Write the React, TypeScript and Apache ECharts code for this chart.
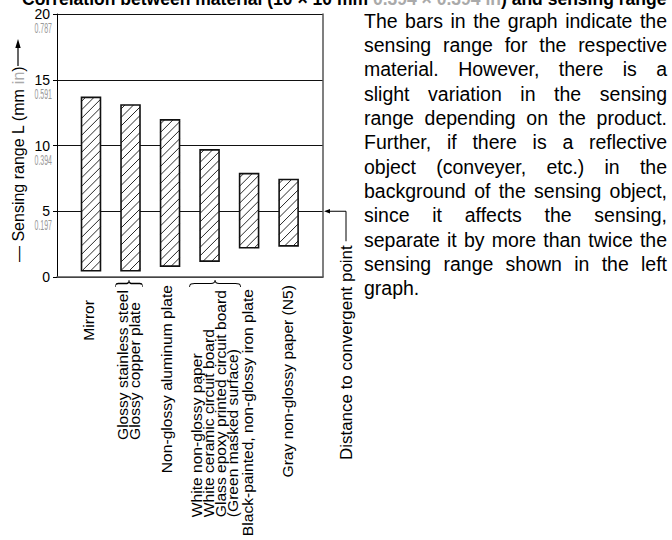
import React, { useEffect, useRef } from "react";
import * as echarts from "echarts";

// ---------- data ----------
const materialLabels: string[][] = [
  ["Mirror"],
  ["Glossy stainless steel", "Glossy copper plate"],
  ["Non-glossy aluminum plate"],
  [
    "White non-glossy paper",
    "White ceramic circuit board",
    "Glass epoxy printed circuit board",
    "(Green masked surface)",
  ],
  ["Black-painted, non-glossy iron plate"],
  ["Gray non-glossy paper (N5)"],
];
const bracedMaterials = [1, 3];
const rangeMin = [0.48, 0.48, 0.83, 1.21, 2.22, 2.37];
const rangeMax = [13.66, 13.08, 11.95, 9.67, 7.86, 7.42];
const yTicksMm = [0, 5, 10, 15, 20];
const yTicksInch = ["", "0.197", "0.394", "0.591", "0.787"];
const convergentDistance = 5;
const titleA = "Correlation between material (10 × 10 mm ";
const titleInch = "0.394 × 0.394 in";
const titleB = ") and sensing range";
const yAxisTitle = "Sensing range L (mm ";
const yAxisUnitInch = "in";
const convergentLabel = "Distance to convergent point";
const paragraphLines = [
  "The bars in the graph indicate the",
  "sensing range for the respective",
  "material. However, there is a",
  "slight variation in the sensing",
  "range depending on the product.",
  "Further, if there is a reflective",
  "object (conveyer, etc.) in the",
  "background of the sensing object,",
  "since it affects the sensing,",
  "separate it by more than twice the",
  "sensing range shown in the left",
  "graph.",
];

// ---------- layout / style ----------
const FONT = "Liberation Sans";
const BAR_W = 0.48;
const labelDx = [-2, -1.5, -3, 5.5, -1.5, -1];
const labelTopGap = [23, 13, 8, 13, 12, 8];
const LABEL_STRETCH = 1.04;

echarts.graphic.registerShape(
  "brace",
  echarts.graphic.extendPath(
    "M0,10 C0,5 4,5 10,5 L42,5 C47,5 50,4 50,0 C50,4 53,5 58,5 L90,5 C96,5 100,5 100,10",
    {}
  )
);

const cv = document.createElement("canvas");
const ctx = cv.getContext("2d")!;
const measure = (t: string, font: string) => {
  ctx.font = font;
  return ctx.measureText(t).width;
};

function renderItem(params: any, api: any) {
  const x = api.value(0);
  const lo = api.value(1);
  const hi = api.value(2);
  const pLo = api.coord([x, lo]);
  const pHi = api.coord([x, hi]);
  const w = api.size([BAR_W, 0])[0];
  const x0 = pLo[0] - w / 2;
  const x1 = pLo[0] + w / 2;
  const y0 = pHi[1];
  const y1 = pLo[1];
  const children: any[] = [
    { type: "rect", shape: { x: x0, y: y0, width: w, height: y1 - y0 }, style: { fill: "#fff" } },
  ];
  const step = 8.5;
  for (let c = x0 + y0 + 4; c < x1 + y1; c += step) {
    const xa = Math.max(x0, c - y1);
    const xb = Math.min(x1, c - y0);
    if (xb > xa + 0.5) {
      children.push({
        type: "line",
        shape: { x1: xa, y1: c - xa, x2: xb, y2: c - xb },
        style: { stroke: "#111", lineWidth: 0.9 },
      });
    }
  }
  children.push({
    type: "rect",
    shape: { x: x0, y: y0, width: w, height: y1 - y0 },
    style: { fill: "none", stroke: "#111", lineWidth: 1.6 },
  });
  return { type: "group", children };
}

export default function App() {
  const ref = useRef<HTMLDivElement>(null);
  useEffect(() => {
    const chart = echarts.init(ref.current!, null, { renderer: "svg" });
    const barData = rangeMin.map((lo, i) => [i + 1, lo, rangeMax[i]]);
    chart.setOption({
      animation: false,
      textStyle: { fontFamily: FONT },
      grid: { left: 57, right: 349, top: 14, bottom: 263 },
      xAxis: {
        type: "value",
        min: 0.14,
        max: 6.87,
        axisLine: { show: true, onZero: false, lineStyle: { color: "#555", width: 1.5 } },
        axisTick: { show: false },
        axisLabel: { show: false },
        splitLine: { show: false },
      },
      yAxis: [
        {
          type: "value",
          min: 0,
          max: 20,
          interval: 5,
          axisLine: { show: true, lineStyle: { color: "#000", width: 1 } },
          axisTick: { show: true, length: 4, lineStyle: { color: "#000" } },
          axisLabel: {
            color: "#000",
            fontSize: 14,
            margin: 7,
            fontFamily: FONT,
            formatter: (v: number) => (yTicksMm.includes(v) ? String(v) : ""),
          },
          splitLine: { show: true, lineStyle: { color: "#111", width: 1 } },
        },
        {
          type: "value",
          min: 0,
          max: 20,
          interval: 5,
          position: "right",
          axisLine: { show: true, lineStyle: { color: "#555", width: 1.5 } },
          axisTick: { show: false },
          axisLabel: { show: false },
          splitLine: { show: false },
        },
      ],
      series: [
        {
          type: "custom",
          renderItem,
          data: barData,
          encode: { x: 0, y: [1, 2] },
          clip: false,
        },
      ],
    });

    const px = (x: number, y: number) =>
      chart.convertToPixel({ xAxisIndex: 0, yAxisIndex: 0 }, [x, y]) as number[];
    const g: any[] = [];

    // title
    const titleFull = titleA + titleInch + titleB;
    const tfs = (645 / measure(titleFull, `bold 100px "${FONT}"`)) * 100;
    g.push({
      type: "text",
      x: 22,
      y: 5 - 0.3465 * tfs,
      style: {
        text: `{b|${titleA}}{g|${titleInch}}{b|${titleB}}`,
        rich: {
          b: { fontSize: tfs, fontWeight: "bold", fontFamily: FONT, fill: "#000" },
          g: { fontSize: tfs, fontWeight: "bold", fontFamily: FONT, fill: "#aaa" },
        },
        fontSize: tfs,
        fontFamily: FONT,
        align: "left",
        textAlign: "left",
        verticalAlign: "middle",
        textVerticalAlign: "middle",
      },
    });

    // y axis name
    g.push({
      type: "text",
      x: 18,
      y: 262,
      rotation: Math.PI / 2,
      style: {
        text: `— ${yAxisTitle}{g|${yAxisUnitInch}})`,
        rich: { g: { fontSize: 16, fontFamily: FONT, fill: "#aaa" } },
        fontSize: 16,
        fontFamily: FONT,
        fill: "#000",
        align: "left",
        textAlign: "left",
        verticalAlign: "middle",
        textVerticalAlign: "middle",
      },
    });
    g.push({ type: "line", shape: { x1: 18, y1: 66, x2: 18, y2: 46 }, style: { stroke: "#000", lineWidth: 1.2 } });
    g.push({ type: "polygon", shape: { points: [[18, 39], [15.3, 48], [20.7, 48]] }, style: { fill: "#000" } });

    // inch tick labels
    yTicksMm.forEach((v, i) => {
      if (!yTicksInch[i]) return;
      const p = px(0.14, v);
      g.push({
        type: "text",
        x: 52,
        y: p[1] + 14,
        scaleX: 0.5,
        style: {
          text: yTicksInch[i],
          fontSize: 14,
          fontFamily: FONT,
          fill: "#999",
          align: "right",
          textAlign: "right",
          verticalAlign: "middle",
          textVerticalAlign: "middle",
        },
      });
    });

    // material labels
    const lfs = 15;
    const lfont = `${lfs}px "${FONT}"`;
    const base = px(1, 0)[1];
    materialLabels.forEach((lines, i) => {
      const c = px(i + 1, 0)[0] + labelDx[i];
      const maxW = Math.max(...lines.map((l) => measure(l, lfont))) * LABEL_STRETCH;
      const top = base + labelTopGap[i];
      g.push({
        type: "text",
        x: c,
        y: top + maxW,
        rotation: Math.PI / 2,
        scaleX: LABEL_STRETCH,
        style: {
          text: lines.join("\n"),
          fontSize: lfs,
          lineHeight: 12,
          fontFamily: FONT,
          fill: "#000",
          align: "left",
          textAlign: "left",
          verticalAlign: "middle",
          textVerticalAlign: "middle",
        },
      });
      if (bracedMaterials.includes(i)) {
        const bw = lines.length * 12 + 3;
        g.push({
          type: "brace",
          x: c - bw / 2,
          y: base + 3,
          scaleX: bw / 100,
          scaleY: 0.7,
          style: { stroke: "#000", fill: "none", lineWidth: 1, strokeNoScale: true },
        });
      }
    });

    // convergent point marker
    const cp = px(6.87, convergentDistance);
    const bx = cp[0] + 23;
    g.push({
      type: "polyline",
      shape: { points: [[cp[0] + 4, cp[1]], [bx, cp[1]], [bx, cp[1] + 30]] },
      style: { stroke: "#000", lineWidth: 1, fill: "none" },
    });
    g.push({
      type: "polygon",
      shape: { points: [[cp[0] + 1, cp[1]], [cp[0] + 7, cp[1] - 2.2], [cp[0] + 7, cp[1] + 2.2]] },
      style: { fill: "#000" },
    });
    g.push({
      type: "text",
      x: bx,
      y: cp[1] + 34,
      rotation: Math.PI / 2,
      scaleX: 1.06,
      style: {
        text: convergentLabel,
        fontSize: 16,
        fontFamily: FONT,
        fill: "#000",
        align: "right",
        textAlign: "right",
        verticalAlign: "middle",
        textVerticalAlign: "middle",
      },
    });

    // paragraph (justified)
    const pfs = 19.5;
    const pfont = `${pfs}px "${FONT}"`;
    const pLeft = 364;
    const pRight = 667;
    const spaceW = measure(" ", pfont);
    paragraphLines.forEach((line, i) => {
      const words = line.split(" ");
      const widths = words.map((w) => measure(w, pfont));
      const total = widths.reduce((a, b) => a + b, 0);
      const last = i === paragraphLines.length - 1;
      const gap = last || words.length < 2 ? spaceW : (pRight - pLeft - total) / (words.length - 1);
      let x = pLeft;
      words.forEach((w, j) => {
        g.push({
          type: "text",
          x,
          y: 20.5 + i * 24.35,
          style: {
            text: w,
            fontSize: pfs,
            fontFamily: FONT,
            fill: "#000",
            align: "left",
            textAlign: "left",
            verticalAlign: "middle",
            textVerticalAlign: "middle",
          },
        });
        x += widths[j] + gap;
      });
    });

    chart.setOption({ graphic: { elements: g } });
    return () => chart.dispose();
  }, []);
  return (
    <div
      ref={ref}
      style={{ width: 672, height: 540, position: "absolute", left: 0, top: 0, background: "#fff" }}
    />
  );
}
